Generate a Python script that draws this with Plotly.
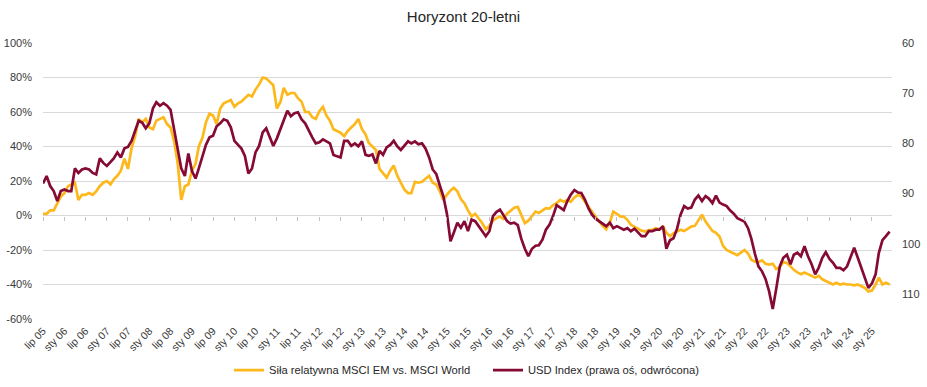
import pandas as pd
import plotly.graph_objects as go

start_month = "2005-07-01"

# Siła relatywna MSCI EM vs. MSCI World (%), monthly from lip 05
em_vs_world = [
    1, 1, 3, 3, 7, 11, 13, 17, 18, 19, 9, 12, 12, 13, 12, 14, 17, 19, 20, 18,
    21, 23, 26, 33, 27, 39, 46, 56, 54, 56, 51, 50, 55, 56, 57, 53, 51, 43, 30, 9,
    17, 18, 26, 30, 40, 45, 54, 59, 58, 53, 62, 65, 66, 67, 63, 65, 66, 68, 70, 69,
    73, 76, 80, 79.5, 77.5, 75.5, 62, 66, 74, 70, 71, 71, 68, 66, 60, 60, 57, 56, 60.5, 63,
    58, 55, 50, 49, 48, 46, 49, 51, 53, 56, 50, 47, 42, 40, 38, 27, 24.5, 22, 26, 29,
    23, 19, 15, 13, 13, 19.5, 19, 19.5, 21.5, 23, 19, 18, 14, 9, 12, 14.5, 16, 14, 9.5, 7,
    3, -0.5, 1, -1.5, -4.5, -8, -6, -3, -1.5, -0.6, -2, 1, 2.5, 4.5, 5, 0, -4.5, -3, -0.5, 2.3,
    1.5, 3, 4.3, 4, 6, 7.2, 9, 8, 9, 8, 10.5, 12, 11, 8, 5.2, 2, -1, -3.5, -6, -8,
    -4, 2.3, 1, -0.6, -0.6, -2.5, -5.4, -6.4, -7.4, -8.8, -9.3, -8.5, -8.3, -7.4, -8, -6.5, -10, -12, -10.3, -9.3,
    -8.3, -9, -7.4, -6.4, -6, -2.5, 0.5, -3.5, -6.5, -9, -10, -12.2, -17.6, -20, -21, -22, -23, -21.5, -20, -22,
    -25.6, -26.8, -27, -26, -28, -28.5, -28, -31, -30, -27, -27.5, -29.5, -31.5, -33, -34, -33, -34, -35, -36, -35,
    -37, -38, -39, -40, -39, -40, -39.5, -40, -40, -40.5, -40, -41, -42, -44, -43.5, -40, -36, -40, -39, -40,
]

# USD Index (prawa oś, odwrócona), monthly from lip 05
usd_index = [
    88, 86.5, 88.5, 89.5, 91.5, 89.5, 89.2, 89.5, 89.5, 85, 85.9, 85.2, 85, 85.2, 85.9, 86.2, 83, 83.9, 84.5, 83.6,
    83, 81.8, 82.8, 81, 80.7, 79.5, 77.5, 75.5, 75.9, 77, 76, 73, 71.8, 72.5, 72, 72.5, 73.3, 77.5, 81, 85,
    86.5, 82, 85.5, 87, 85, 82.5, 80.3, 78.8, 78.5, 76.6, 76, 75.2, 75.5, 76.8, 79.5, 80.3, 81, 82.5, 86, 85,
    81.8, 80.5, 77.8, 77, 79, 80.5, 79, 77.2, 75.5, 73.5, 74.6, 74, 73.8, 75.2, 76, 77.5, 78.8, 80, 79.8, 79.2,
    79.6, 80, 82.3, 82.5, 82.8, 79.5, 79.5, 80.5, 80, 80.6, 79.6, 82.3, 82.5, 82.2, 84, 81.5, 82.3, 80.8, 80.3, 79.5,
    80.6, 81.3, 80.5, 79.6, 80, 79.6, 80.2, 80, 81, 82.8, 85.2, 86.1, 88.4, 90.5, 94, 99.5, 97.8, 95.8, 96.8, 95.5,
    97.5, 95.2, 95.5, 96.5, 97.5, 98.5, 97.5, 94.5, 93.7, 93.2, 94.3, 95.5, 96, 95.8, 96.3, 99, 101, 102.5, 101, 100.4,
    100.3, 99.2, 97.2, 96.2, 94.5, 92.3, 92.8, 93.3, 91.5, 90.2, 89.3, 89.8, 89.9, 91.2, 92.9, 94.2, 95, 95.5, 96, 96.5,
    95.8, 96.9, 96.5, 96.9, 97.2, 96.9, 97.5, 97, 97.8, 98.5, 98.5, 97.5, 97.5, 97.2, 97.2, 96.5, 101, 99.3, 98.9, 97,
    94.2, 92.5, 93, 92.8, 91.2, 90.4, 91.5, 90.5, 91, 91.9, 90.4, 91.8, 92.2, 92.5, 93.4, 94, 94.9, 95.3, 95.6, 96.9,
    99, 102, 104.5, 105.5, 107, 109.5, 113, 109, 104.5, 102.8, 102.2, 104.1, 102.2, 101.8, 102.5, 100.5, 102.5, 104.1, 106.1, 104.8,
    102.8, 101.7, 103, 103.8, 104.8, 104.8, 105.3, 104.5, 102.8, 100.8, 102.8, 104.8, 106.8, 108.8, 107.9, 106.1, 101.8, 99.3, 98.5, 97.6,
]

tick_labels = [
    "lip 05", "sty 06", "lip 06", "sty 07", "lip 07", "sty 08", "lip 08", "sty 09",
    "lip 09", "sty 10", "lip 10", "sty 11", "lip 11", "sty 12", "lip 12", "sty 13",
    "lip 13", "sty 14", "lip 14", "sty 15", "lip 15", "sty 16", "lip 16", "sty 17",
    "lip 17", "sty 18", "lip 18", "sty 19", "lip 19", "sty 20", "lip 20", "sty 21",
    "lip 21", "sty 22", "lip 22", "sty 23", "lip 23", "sty 24", "lip 24", "sty 25",
]

left_ticks = [-60, -40, -20, 0, 20, 40, 60, 80, 100]
left_labels = [f"{v}%" for v in left_ticks]
right_ticks = [60, 70, 80, 90, 100, 110]

dates = pd.date_range(start_month, periods=len(em_vs_world), freq="MS")
tick_dates = pd.date_range(start_month, periods=len(tick_labels), freq="6MS")

YELLOW = "#FDB81C"
MAROON = "#850A35"
FONT = "Liberation Sans"
TXT = "#3a3a3a"
GRID = "#d9d9d9"

fig = go.Figure()
fig.add_trace(go.Scatter(
    x=dates, y=em_vs_world, name="Siła relatywna MSCI EM vs. MSCI World",
    mode="lines", line=dict(color=YELLOW, width=2.7), xaxis="x", yaxis="y",
))
fig.add_trace(go.Scatter(
    x=dates, y=usd_index, name="USD Index (prawa oś, odwrócona)",
    mode="lines", line=dict(color=MAROON, width=2.7), xaxis="x", yaxis="y2",
))
# helper trace so the tick-mark axis at the 0% level is rendered
fig.add_trace(go.Scatter(
    x=[dates[0]], y=[0], xaxis="x2", yaxis="y3", mode="markers",
    marker=dict(opacity=0), showlegend=False, hoverinfo="skip",
))

x_end = pd.Timestamp("2025-06-22")

fig.update_layout(
    width=927, height=387,
    margin=dict(l=43, r=35, t=43, b=68, autoexpand=False),
    paper_bgcolor="white", plot_bgcolor="white",
    font=dict(family=FONT, size=11, color=TXT),
    title=dict(text="Horyzont 20-letni", x=0.5, xanchor="center",
               y=1 - 17 / 387, yanchor="middle",
               font=dict(family=FONT, size=15, color="#262626")),
    xaxis=dict(
        range=[dates[0], x_end], tickvals=tick_dates, ticktext=tick_labels,
        tickangle=-45, showgrid=False, zeroline=False, showline=False, ticks="",
        tickfont=dict(size=10.5, color=TXT), ticklabelstandoff=3, automargin=False,
    ),
    xaxis2=dict(
        overlaying="x", anchor="free", position=60 / 160,
        range=[dates[0], x_end], tickvals=tick_dates, ticks="outside", ticklen=4,
        tickcolor="#bfbfbf", tickwidth=1, showticklabels=False, showgrid=False,
        zeroline=False, showline=False, automargin=False,
    ),
    yaxis=dict(
        range=[-60, 100], tickvals=left_ticks, ticktext=left_labels,
        showgrid=True, gridcolor=GRID, gridwidth=1.3, zeroline=False, showline=False,
        tickfont=dict(size=11, color=TXT), ticklabelstandoff=10, automargin=False,
    ),
    yaxis2=dict(
        overlaying="y", side="right", range=[115, 60], tickvals=right_ticks,
        showgrid=False, zeroline=False, showline=False,
        tickfont=dict(size=11, color=TXT), ticklabelstandoff=9, automargin=False,
    ),
    yaxis3=dict(
        overlaying="y", range=[-60, 100], visible=False, showgrid=False,
        automargin=False,
    ),
    legend=dict(orientation="h", x=(229 - 43) / 849, xanchor="left",
                y=-0.185, yanchor="middle", entrywidth=214, entrywidthmode="pixels",
                font=dict(family=FONT, size=11.2, color="#262626"),
                bgcolor="rgba(0,0,0,0)"),
    showlegend=True,
)

fig.write_html("out.html", config={"displayModeBar": False},
               post_script="document.body.style.margin='0';")
